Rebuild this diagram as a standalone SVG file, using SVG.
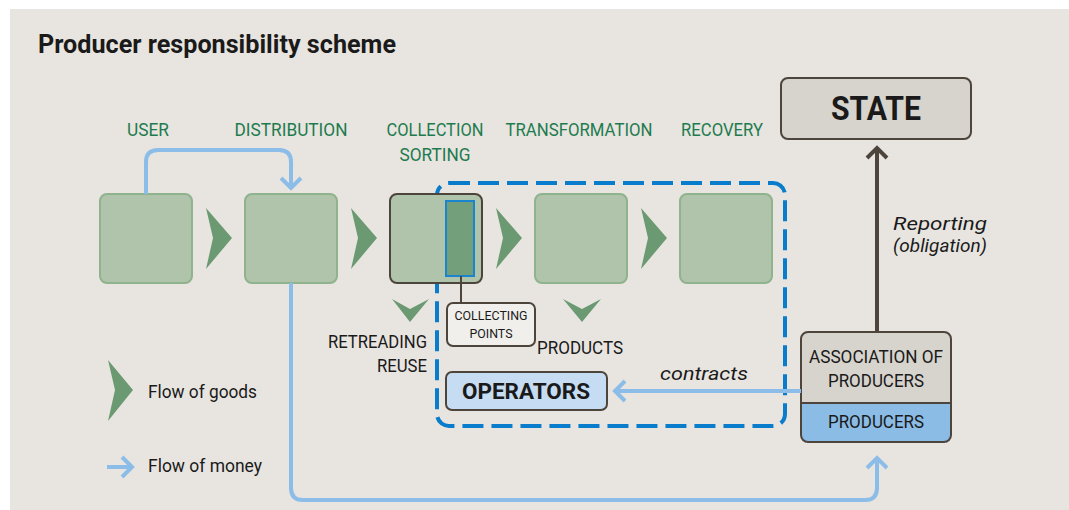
<svg xmlns="http://www.w3.org/2000/svg" width="1069" height="510" viewBox="0 0 1069 510">
<defs>
<style>
.bg{fill:#e8e5e0}
.t{font-family:Roboto,"Liberation Sans",sans-serif;fill:#1a1a1a}
.g{font-family:Roboto,"Liberation Sans",sans-serif;fill:#1e7b4f;font-size:17.5px;text-anchor:middle}
.box{fill:#afc4aa;stroke:#8fb38d;stroke-width:2}
.chev{fill:#6b9a72}
.dark{stroke:#4d443c;stroke-width:2}
.money{fill:none;stroke:#8cbde8;stroke-width:4}
.rep{fill:none;stroke:#4d443c;stroke-width:4}
.mid{text-anchor:middle}
.it{font-style:italic}
</style>
<marker id="mh" markerUnits="userSpaceOnUse" markerWidth="30" markerHeight="30" refX="14" refY="15" orient="auto" viewBox="0 0 30 30">
<path d="M5,5 L15,15 L5,25" fill="none" stroke="#8cbde8" stroke-width="4"/>
</marker>
<marker id="dh" markerUnits="userSpaceOnUse" markerWidth="30" markerHeight="30" refX="14" refY="15" orient="auto" viewBox="0 0 30 30">
<path d="M5,5 L15,15 L5,25" fill="none" stroke="#4d443c" stroke-width="4"/>
</marker>
</defs>
<rect class="bg" x="10" y="9" width="1059" height="501"/>
<text class="t" x="38" y="53" font-size="26" font-weight="bold" fill="#111" textLength="358" lengthAdjust="spacingAndGlyphs">Producer responsibility scheme</text>

<g id="labels">
<text class="g" x="148" y="136" textLength="42" lengthAdjust="spacingAndGlyphs">USER</text>
<text class="g" x="291" y="136" textLength="113" lengthAdjust="spacingAndGlyphs">DISTRIBUTION</text>
<text class="g" x="435" y="136" textLength="97" lengthAdjust="spacingAndGlyphs">COLLECTION</text>
<text class="g" x="435" y="161" textLength="71" lengthAdjust="spacingAndGlyphs">SORTING</text>
<text class="g" x="579" y="136" textLength="147" lengthAdjust="spacingAndGlyphs">TRANSFORMATION</text>
<text class="g" x="722" y="136" textLength="82" lengthAdjust="spacingAndGlyphs">RECOVERY</text>
</g>

<g id="operators-zone">
<rect x="437" y="183" width="348" height="243" rx="12" fill="none" stroke="#0a7ccc" stroke-width="4" stroke-dasharray="21 8"/>
</g>

<g id="user"><rect class="box" x="100" y="194" width="92" height="89" rx="7"/></g>
<g id="distribution"><rect class="box" x="245" y="194" width="92" height="89" rx="7"/></g>
<g id="collection">
<rect class="box" x="390" y="194" width="92" height="89" rx="7" style="stroke:#4d443c"/>
<rect x="446" y="201" width="28" height="75" fill="#73a07a" stroke="#1a84cf" stroke-width="2"/>
</g>
<g id="transformation"><rect class="box" x="535" y="194" width="92" height="89" rx="7"/></g>
<g id="recovery"><rect class="box" x="680" y="194" width="92" height="89" rx="7"/></g>

<g id="goods-chevrons">
<polygon class="chev" points="206,208 232,238 206,269 213,238"/>
<polygon class="chev" points="351,208 377,238 351,269 358,238"/>
<polygon class="chev" points="496,208 522,238 496,269 503,238"/>
<polygon class="chev" points="641,208 667,238 641,269 648,238"/>
<polygon class="chev" points="392,299 410,309 429,299 410,322"/>
<polygon class="chev" points="563,299 582,309 601,299 582,322"/>
</g>

<g id="collecting-points">
<rect x="447" y="303" width="88" height="43" rx="6" fill="#f1efeb" class="dark"/>
<text class="t mid" x="491" y="320" font-size="13" textLength="73" lengthAdjust="spacingAndGlyphs">COLLECTING</text>
<text class="t mid" x="491" y="338" font-size="13" textLength="43" lengthAdjust="spacingAndGlyphs">POINTS</text>
</g>

<g id="retreading">
<text class="t" x="427" y="348" font-size="18" text-anchor="end" textLength="99" lengthAdjust="spacingAndGlyphs">RETREADING</text>
<text class="t" x="427" y="372" font-size="18" text-anchor="end" textLength="50" lengthAdjust="spacingAndGlyphs">REUSE</text>
</g>
<g id="products">
<text class="t" x="537" y="354" font-size="18" textLength="86" lengthAdjust="spacingAndGlyphs">PRODUCTS</text>
</g>

<g id="operators">
<rect x="446" y="372" width="161" height="38" rx="6" fill="#c6dcf2" class="dark"/>
<text class="t mid" x="526" y="399" font-size="22" font-weight="bold" textLength="128" lengthAdjust="spacingAndGlyphs">OPERATORS</text>
</g>

<g id="state">
<rect x="781" y="78" width="190" height="61" rx="7" fill="#d7d3cd" class="dark"/>
<text class="t mid" x="876" y="120" font-size="34" font-weight="bold" textLength="90" lengthAdjust="spacingAndGlyphs">STATE</text>
</g>

<g id="association">
<path d="M801,403 V339 Q801,332 808,332 H944 Q951,332 951,339 V403 Z" fill="#d7d3cd"/>
<path d="M801,403 H951 V435 Q951,442 944,442 H808 Q801,442 801,435 Z" fill="#8bbce6"/>
<rect x="801" y="332" width="150" height="110" rx="7" fill="none" class="dark"/>
<line x1="801" y1="403" x2="951" y2="403" class="dark"/>
<text class="t mid" x="876" y="363" font-size="18" textLength="134" lengthAdjust="spacingAndGlyphs">ASSOCIATION OF</text>
<text class="t mid" x="876" y="387" font-size="18" textLength="96" lengthAdjust="spacingAndGlyphs">PRODUCERS</text>
<text class="t mid" x="876" y="428" font-size="18" textLength="96" lengthAdjust="spacingAndGlyphs">PRODUCERS</text>
</g>

<g id="connectors">
<path class="money" d="M146,194 V162 Q146,150 158,150 H279 Q291,150 291,162 V187" marker-end="url(#mh)"/>
<path class="money" d="M291,283 V488 Q291,500 303,500 H865 Q877,500 877,488 V459" marker-end="url(#mh)"/>
<path class="money" d="M801,391 H616" marker-end="url(#mh)"/>
<path class="rep" d="M877,332 V149" marker-end="url(#dh)"/>
<line x1="461" y1="276" x2="461" y2="303" class="dark"/>
</g>

<g id="connector-labels">
<text class="t it" x="660" y="380" font-size="19" textLength="88" lengthAdjust="spacingAndGlyphs">contracts</text>
<text class="t it" x="893" y="230" font-size="19" textLength="94" lengthAdjust="spacingAndGlyphs">Reporting</text>
<text class="t it" x="893" y="252" font-size="18" textLength="94" lengthAdjust="spacingAndGlyphs">(obligation)</text>
</g>

<g id="legend">
<polygon class="chev" points="108,360 133,390 108,421 115,390"/>
<text class="t" x="148" y="398" font-size="18" textLength="109" lengthAdjust="spacingAndGlyphs">Flow of goods</text>
<path class="money" d="M107,467 H131" marker-end="url(#mh)"/>
<text class="t" x="148" y="472" font-size="18" textLength="114" lengthAdjust="spacingAndGlyphs">Flow of money</text>
</g>
</svg>
